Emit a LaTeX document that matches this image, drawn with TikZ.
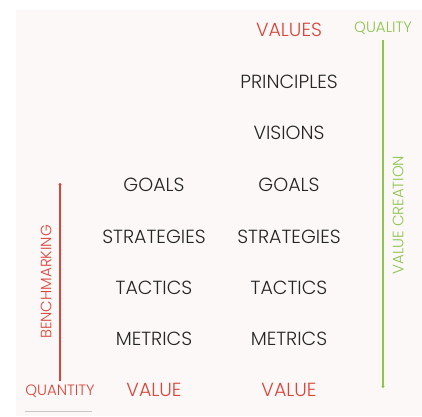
\documentclass[tikz,border=0pt]{standalone}
\usepackage{fontspec}
\setmainfont{Poppins}[UprightFont={* Light}]
\usetikzlibrary{arrows.meta}
\definecolor{bgc}{HTML}{FBF8F7}
\definecolor{redc}{HTML}{D8453B}
\definecolor{greenc}{HTML}{8DC44E}
\definecolor{txtc}{HTML}{262626}
\begin{document}
\begin{tikzpicture}[x=1pt,y=-1pt,
  lab/.style={font=\fontsize{19}{19}\selectfont, text=txtc, inner sep=0pt, anchor=center},
  redlab/.style={lab, text=redc},
  small/.style={font=\fontsize{15}{15}\selectfont, inner sep=0pt, anchor=center},
  arr/.style={line width=1.3pt, -{Circle[length=3pt]}}]
\useasboundingbox (0,0) rectangle (422,416);
\fill[bgc] (16,10) rectangle (422,416);
% right column
\node[redlab] (values) at (289,30) {VALUES};
\node[lab] (princ) at (289,82) {PRINCIPLES};
\node[lab] (vis) at (289,133) {VISIONS};
\node[lab] (goalsR) at (289,185) {GOALS};
\node[lab] (stratR) at (289,237) {STRATEGIES};
\node[lab] (tactR) at (289,288) {TACTICS};
\node[lab] (metR) at (289,339) {METRICS};
\node[redlab] (valR) at (289,390) {VALUE};
% left column
\node[lab] (goalsL) at (154,185) {GOALS};
\node[lab] (stratL) at (154,237) {STRATEGIES};
\node[lab] (tactL) at (154,288) {TACTICS};
\node[lab] (metL) at (154,339) {METRICS};
\node[redlab] (valL) at (154,390) {VALUE};
% quality axis
\node[small, text=greenc] (quality) at (383,28) {QUALITY};
\coordinate (qend) at (383,388);
\draw[arr, greenc, line width=1.1pt] (383,40) -- (qend);
\node[small, text=greenc, rotate=90] (vc) at (398,215) {VALUE CREATION};
% quantity axis
\node[small, text=redc] (quantity) at (60,391) {QUANTITY};
\coordinate (qtop) at (60,183);
\draw[arr, redc, line width=1.1pt] (60,381) -- (qtop);
\node[small, text=redc, rotate=90] (bench) at (46,282) {BENCHMARKING};
\fill[gray!45] (25,410.6) rectangle (92,411.6);
\end{tikzpicture}
\end{document}
